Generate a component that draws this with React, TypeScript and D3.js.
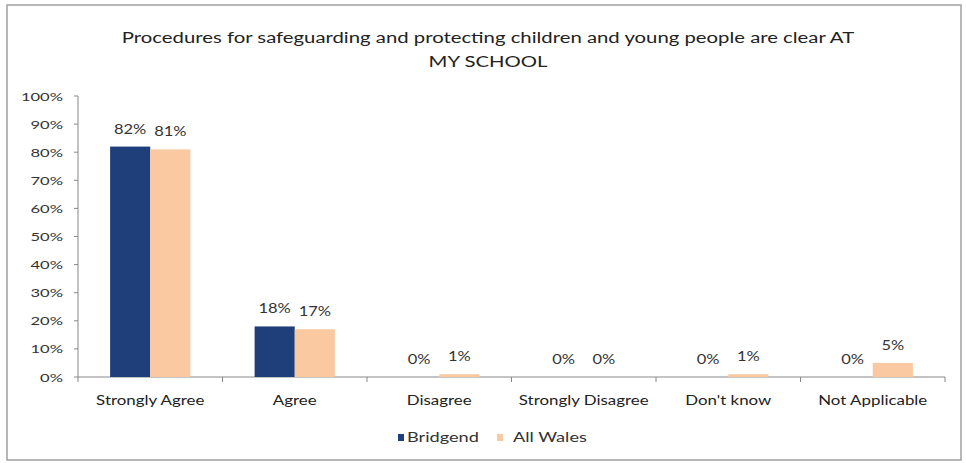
import React from "react";
import * as d3 from "d3";

const categories = ["Strongly Agree", "Agree", "Disagree", "Strongly Disagree", "Don't know", "Not Applicable"];
const seriesNames = ["Bridgend", "All Wales"];
const bridgend = [82, 18, 0, 0, 0, 0];
const allWales = [81, 17, 1, 0, 1, 5];
const yTicks = [0, 10, 20, 30, 40, 50, 60, 70, 80, 90, 100];
const titleLines = ["Procedures for safeguarding and protecting children and young people are clear AT", "MY SCHOOL"];
const colors = ["#1F3F7A", "#FAC9A1"];

const W = 966, H = 463;
const FONT = "Lato, 'Open Sans', sans-serif";

function SText(props: { x: number; y: number; sx: number; size: number; anchor?: string; fill?: string; children: any }) {
  const { x, y, sx, size, anchor = "start", fill = "#333", children } = props;
  return (
    <text transform={`translate(${x},${y}) scale(${sx},1)`} textAnchor={anchor} fontSize={size} fill={fill}>
      {children}
    </text>
  );
}

export default function App() {
  const x0 = d3.scaleBand<string>().domain(categories).range([78, 945]).paddingInner(0).paddingOuter(0);
  const x1 = d3.scaleBand<string>().domain(seriesNames).range([0, x0.bandwidth()]).paddingInner(0).paddingOuter(0.8);
  const y = d3.scaleLinear().domain([0, 100]).range([377, 96]);
  const series = [bridgend, allWales];

  return (
    <svg width={W} height={H} style={{ position: "absolute", left: 0, top: 0, background: "#fff" }} fontFamily={FONT}>
      <rect x={7} y={5} width={954} height={455} fill="#fff" stroke="#a0a0a0" strokeWidth={1.5} />
      {titleLines.map((t, i) => (
        <SText key={i} x={488} y={43 + i * 24} sx={1.27} size={16} anchor="middle" fill="#222">{t}</SText>
      ))}
      {/* y axis */}
      <line x1={78} x2={78} y1={y(100)} y2={y(0)} stroke="#888" />
      {yTicks.map((t) => (
        <g key={t}>
          <line x1={74} x2={78} y1={y(t)} y2={y(t)} stroke="#888" />
          <SText x={63} y={y(t) + 4.5} sx={1.38} size={12} anchor="end">{t}%</SText>
        </g>
      ))}
      {/* x axis */}
      <line x1={78} x2={945} y1={y(0)} y2={y(0)} stroke="#888" />
      {[...categories.map((c) => x0(c)!), 945].map((v, i) => (
        <line key={i} x1={v} x2={v} y1={y(0)} y2={y(0) + 5} stroke="#888" />
      ))}
      {categories.map((c, ci) => (
        <g key={c}>
          {series.map((s, si) => {
            const bx = x0(c)! + x1(seriesNames[si])!;
            const bw = x1.bandwidth();
            return (
              <g key={si}>
                <rect x={bx} y={y(s[ci])} width={bw} height={y(0) - y(s[ci])} fill={colors[si]} />
                <SText x={bx + bw / 2} y={y(s[ci]) - 13} sx={1.32} size={12.5} anchor="middle">{s[ci]}%</SText>
              </g>
            );
          })}
          <SText x={x0(c)! + x0.bandwidth() / 2} y={y(0) + 28} sx={1.3} size={13} anchor="middle" fill="#222">{c}</SText>
        </g>
      ))}
      {/* legend */}
      {seriesNames.map((n, i) => {
        const lx = i === 0 ? 398 : 497;
        return (
          <g key={n}>
            <rect x={lx} y={434} width={6} height={7} fill={colors[i]} />
            <SText x={lx + (i === 0 ? 9 : 16)} y={442} sx={1.4} size={13}>{n}</SText>
          </g>
        );
      })}
    </svg>
  );
}
